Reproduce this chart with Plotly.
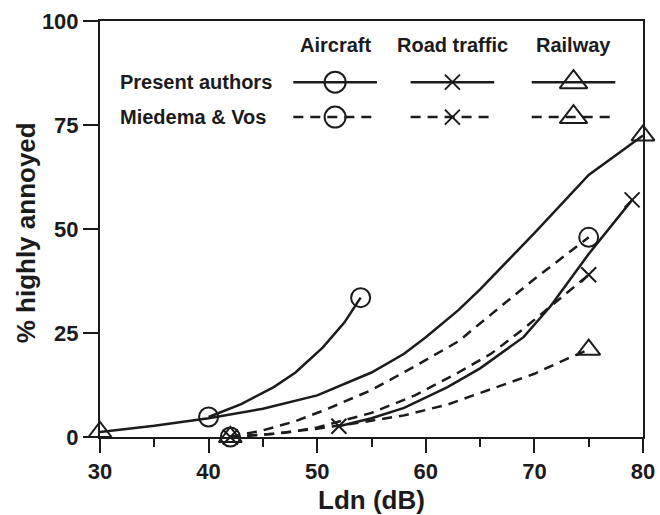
import plotly.graph_objects as go

# Percentage highly annoyed vs Ldn, read per source and study
ink = "#1b1b1b"
font_family = "Liberation Sans, Arial, sans-serif"

# Present authors (solid curves)
air_pa_x = [40, 43, 46, 48, 50.5, 52.5, 54]
air_pa_y = [4.8, 7.9, 12, 15.5, 21.5, 27.5, 33.5]
road_pa_x = [52, 55, 58, 62, 65, 69, 71.5, 75, 79]
road_pa_y = [2.6, 4.5, 7, 12, 16.5, 24, 31.5, 44, 57]
rail_pa_x = [30, 35, 40, 45, 50, 55, 58, 60, 63, 65, 70, 75, 80]
rail_pa_y = [1.2, 2.7, 4.5, 6.8, 10, 15.5, 20, 24, 30.5, 35.5, 49, 63, 72.5]

# Miedema & Vos (dashed curves)
air_mv_x = [42, 45, 48, 51, 55, 59, 63, 66, 70, 75]
air_mv_y = [0, 1.6, 3.8, 6.8, 11.3, 17, 23, 29.5, 38, 48]
road_mv_x = [42, 47, 50, 55, 59, 63, 66, 69, 72, 75]
road_mv_y = [0, 1, 2.3, 5.8, 10, 15.5, 20, 26, 32.5, 39]
rail_mv_x = [42, 46, 50, 54, 58, 62, 66, 70, 73, 75]
rail_mv_y = [0, 0.8, 2, 3.5, 5.2, 7.8, 11.5, 15.2, 18.8, 21]

x_ticks = [30, 40, 50, 60, 70, 80]
y_ticks = [0, 25, 50, 75, 100]

sources = ["Aircraft", "Road traffic", "Railway"]
studies = ["Present authors", "Miedema & Vos"]

symbols = {"Aircraft": "circle-open", "Road traffic": "x-thin-open", "Railway": "triangle-up-open"}
sizes = {"Aircraft": 19, "Road traffic": 15, "Railway": 20}
legend_sizes = {"Aircraft": 21, "Road traffic": 15, "Railway": 24}
dashes = {"Present authors": "solid", "Miedema & Vos": "10px,7px"}

series = [
    ("Aircraft", "Present authors", air_pa_x, air_pa_y),
    ("Road traffic", "Present authors", road_pa_x, road_pa_y),
    ("Railway", "Present authors", rail_pa_x, rail_pa_y),
    ("Aircraft", "Miedema & Vos", air_mv_x, air_mv_y),
    ("Road traffic", "Miedema & Vos", road_mv_x, road_mv_y),
    ("Railway", "Miedema & Vos", rail_mv_x, rail_mv_y),
]

fig = go.Figure()

for src, study, xs, ys in series:
    # curve
    fig.add_trace(go.Scatter(
        x=xs, y=ys, mode="lines", showlegend=False, hoverinfo="skip",
        line=dict(color=ink, width=2.5, dash=dashes[study]),
        cliponaxis=False,
    ))
    # open symbols at both ends of each curve
    fig.add_trace(go.Scatter(
        x=[xs[0], xs[-1]], y=[ys[0], ys[-1]], mode="markers", showlegend=False,
        marker=dict(symbol=symbols[src], size=sizes[src], color=ink,
                    line=dict(color=ink, width=2)),
        cliponaxis=False,
    ))

# Table-style key drawn on an overlay axis spanning the plot area (0..1)
col_centers = {"Aircraft": 0.433, "Road traffic": 0.649, "Railway": 0.872}
half_len = 0.077
row_y = {"Present authors": 0.853, "Miedema & Vos": 0.769}
header_y = 0.942
label_x = 0.033

for study in studies:
    for src in sources:
        cx = col_centers[src]
        fig.add_trace(go.Scatter(
            x=[cx - half_len, cx + half_len], y=[row_y[study]] * 2,
            xaxis="x2", yaxis="y2", mode="lines", showlegend=False, hoverinfo="skip",
            line=dict(color=ink, width=2.5, dash=dashes[study]),
        ))
        fig.add_trace(go.Scatter(
            x=[cx], y=[row_y[study]], xaxis="x2", yaxis="y2", mode="markers",
            showlegend=False, hoverinfo="skip",
            marker=dict(symbol=symbols[src], size=legend_sizes[src], color=ink,
                        line=dict(color=ink, width=2)),
        ))

annotations = []
for src in sources:
    annotations.append(dict(
        x=col_centers[src], y=header_y, xref="paper", yref="paper", text=src,
        showarrow=False, xanchor="center", yanchor="middle",
        font=dict(family=font_family, size=20, color=ink, weight="bold"),
    ))
for study in studies:
    annotations.append(dict(
        x=label_x, y=row_y[study], xref="paper", yref="paper", text=study,
        showarrow=False, xanchor="left", yanchor="middle",
        font=dict(family=font_family, size=20, color=ink, weight="bold"),
    ))
# vertical axis title
annotations.append(dict(
    x=-0.136, y=0.49, xref="paper", yref="paper", text="% highly annoyed",
    textangle=-90, showarrow=False, xanchor="center", yanchor="middle",
    font=dict(family=font_family, size=26, color=ink, weight="bold"),
))

fig.update_layout(
    width=660, height=515,
    margin=dict(l=100, r=17, t=21, b=78),
    paper_bgcolor="white", plot_bgcolor="white",
    font=dict(family=font_family, color=ink, weight="bold"),
    annotations=annotations,
    xaxis=dict(
        range=[30, 80], tickvals=x_ticks, ticktext=[str(v) for v in x_ticks],
        ticks="outside", ticklen=14, tickwidth=2, tickcolor=ink,
        showline=True, linecolor=ink, linewidth=2, mirror=True,
        showgrid=False, zeroline=False, automargin=False,
        tickfont=dict(family=font_family, size=22, color=ink, weight="bold"),
        minor=dict(dtick=5, tick0=30, ticks="outside", ticklen=8, tickwidth=2,
                   tickcolor=ink, showgrid=False),
        title=dict(text="Ldn (dB)", standoff=8,
                   font=dict(family=font_family, size=26, color=ink, weight="bold")),
    ),
    yaxis=dict(
        range=[0, 100], tickvals=y_ticks, ticktext=[str(v) for v in y_ticks],
        ticks="outside", ticklen=15, tickwidth=2, tickcolor=ink,
        showline=True, linecolor=ink, linewidth=2, mirror=True,
        showgrid=False, zeroline=False, automargin=False,
        tickfont=dict(family=font_family, size=22, color=ink, weight="bold"),
    ),
    xaxis2=dict(overlaying="x", range=[0, 1], visible=False, fixedrange=True),
    yaxis2=dict(overlaying="y", range=[0, 1], visible=False, fixedrange=True),
)

fig.write_html("out.html")
